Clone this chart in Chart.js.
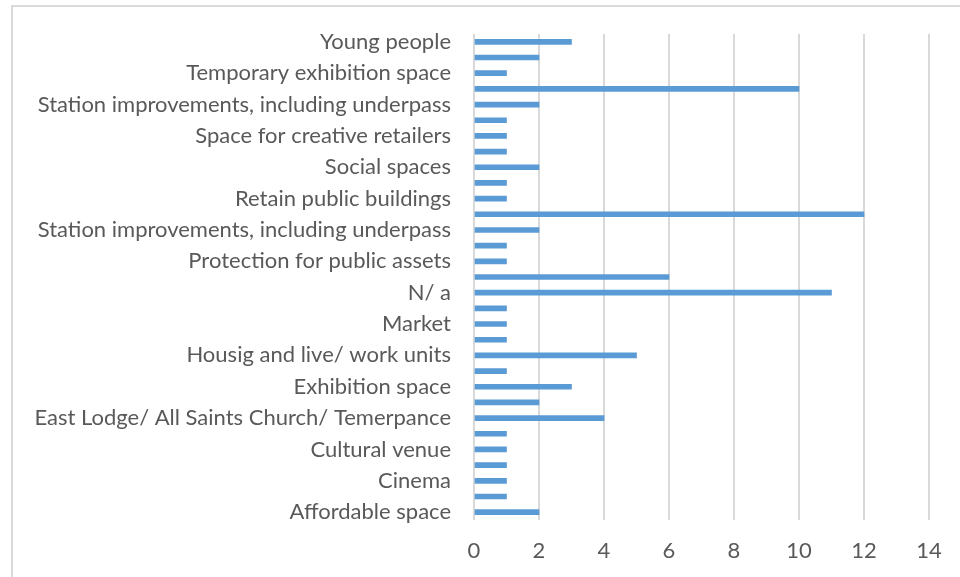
<!DOCTYPE html>
<html lang="en">
    <head>
        <meta charset="UTF-8">
        <title>Responses</title>
        <script src="https://cdn.jsdelivr.net/npm/chart.js"></script>
        <style>
            body { margin: 0; background: #fff; overflow: hidden; }
            #frame {
                position: absolute; left: 11px; top: 5px;
                width: 960px; height: 600px;
                border-left: 2px solid #d9d9d9; border-top: 2px solid #d9d9d9;
            }
            #responsesChart { position: absolute; left: 0; top: 0; }
        </style>
    </head>
    <body>
        <div id="frame"></div>
        <canvas id="responsesChart" width="960" height="577"></canvas>

        <script>
            // every second category is labelled on the axis, the rest stay blank
            const categories = [
                'Young people', '', 'Temporary exhibition space', '',
                'Station improvements, including underpass', '', 'Space for creative retailers', '',
                'Social spaces', '', 'Retain public buildings', '',
                'Station improvements, including underpass', '', 'Protection for public assets', '',
                'N/ a', '', 'Market', '',
                'Housig and live/ work units', '', 'Exhibition space', '',
                'East Lodge/ All Saints Church/ Temerpance', '', 'Cultural venue', '',
                'Cinema', '', 'Affordable space'
            ];
            const counts = [3, 2, 1, 10, 2, 1, 1, 1, 2, 1, 1, 12, 2, 1, 1, 6, 11, 1, 1, 1, 5, 1, 3, 2, 4, 1, 1, 1, 1, 1, 2];
            const xMax = 14;
            const xStep = 2;

            const labelFont = { family: 'Lato', size: 22 };
            const ctx = document.getElementById('responsesChart').getContext('2d');

            new Chart(ctx, {
                type: 'bar',
                data: {
                    labels: categories,
                    datasets: [{
                        data: counts,
                        backgroundColor: '#5b9bd5',
                        barThickness: 5
                    }]
                },
                options: {
                    indexAxis: 'y',
                    responsive: false,
                    animation: false,
                    layout: { padding: { top: 34, right: 31, left: 0, bottom: 0 } },
                    plugins: { legend: { display: false }, tooltip: { enabled: false } },
                    scales: {
                        x: {
                            min: 0,
                            max: xMax,
                            ticks: { stepSize: xStep, padding: 18, color: '#595959', font: labelFont },
                            grid: { color: '#d9d9d9', lineWidth: 2, drawTicks: false },
                            border: { display: false },
                            afterFit: scale => { scale.height = 57; }
                        },
                        y: {
                            ticks: { autoSkip: false, padding: 23, color: '#595959', font: labelFont },
                            grid: { display: false, drawTicks: false },
                            border: { display: false },
                            afterFit: scale => {
                                scale.width = 474;
                                scale.paddingTop = 0;
                                scale.paddingBottom = 0;
                            }
                        }
                    }
                }
            });
        </script>
    </body>
</html>
